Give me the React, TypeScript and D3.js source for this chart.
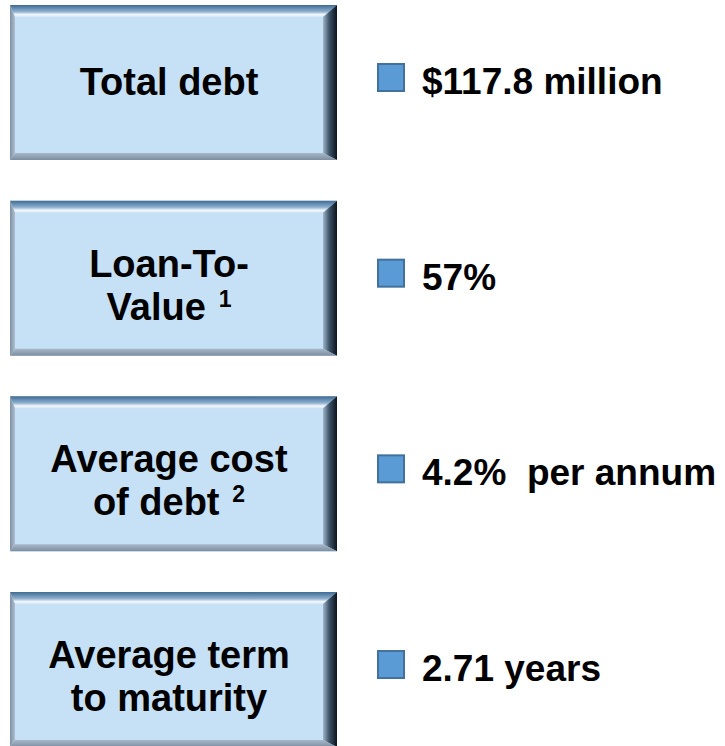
// DebtSummary.tsx
import React from 'react';
import * as d3 from 'd3';

const labels: string[][] = [
  ['Total debt'],
  ['Loan-To-', 'Value'],
  ['Average cost', 'of debt'],
  ['Average term', 'to maturity'],
];
const footnotes: string[] = ['', '1', '2', ''];
const values: string[] = ['$117.8 million', '57%', '4.2%  per annum', '2.71 years'];

const width = 725;
const height = 746;
const font = 'Liberation Sans, Arial, sans-serif';

const BevelBox = ({ x, y, w, h, id }: { x: number; y: number; w: number; h: number; id: number }) => {
  const t = 12; // top bevel
  const r = 14; // right bevel
  const b = 7; // bottom bevel
  const l = 5; // left bevel
  const x1 = x + w;
  const y1 = y + h;
  return (
    <g>
      <defs>
        <linearGradient id={`top${id}`} x1="0" y1="0" x2="0" y2="1">
          <stop offset="0" stopColor="#3f6a93" />
          <stop offset="0.55" stopColor="#8eb0cf" />
          <stop offset="0.8" stopColor="#f4f8fc" />
          <stop offset="1" stopColor="#d3e6f6" />
        </linearGradient>
        <linearGradient id={`right${id}`} x1="0" y1="0" x2="1" y2="0">
          <stop offset="0" stopColor="#9fb6cb" />
          <stop offset="0.45" stopColor="#3c5267" />
          <stop offset="1" stopColor="#0a141d" />
        </linearGradient>
        <linearGradient id={`bottom${id}`} x1="0" y1="0" x2="0" y2="1">
          <stop offset="0" stopColor="#a7b8ca" />
          <stop offset="1" stopColor="#7d8ea2" />
        </linearGradient>
        <linearGradient id={`left${id}`} x1="0" y1="0" x2="1" y2="0">
          <stop offset="0" stopColor="#7f90a4" />
          <stop offset="1" stopColor="#aebfd0" />
        </linearGradient>
      </defs>
      <rect x={x} y={y} width={w} height={h} fill="#c6e0f5" />
      <polygon
        points={`${x},${y} ${x1},${y} ${x1 - r},${y + t} ${x + l},${y + t}`}
        fill={`url(#top${id})`}
      />
      <polygon
        points={`${x1},${y} ${x1},${y1} ${x1 - r},${y1 - b} ${x1 - r},${y + t}`}
        fill={`url(#right${id})`}
      />
      <polygon
        points={`${x},${y1} ${x1},${y1} ${x1 - r},${y1 - b} ${x + l},${y1 - b}`}
        fill={`url(#bottom${id})`}
      />
      <polygon
        points={`${x},${y} ${x + l},${y + t} ${x + l},${y1 - b} ${x},${y1}`}
        fill={`url(#left${id})`}
      />
    </g>
  );
};

const App = () => {
  const yScale = d3.scaleBand<number>()
    .domain(d3.range(labels.length))
    .range([5, 747])
    .paddingInner(0.208)
    .paddingOuter(0);

  const boxX = 10;
  const boxW = 327;
  const bh = yScale.bandwidth();
  const lineH = 43;
  const textX = 169;

  return (
    <div style={{ position: 'absolute', left: 0, top: 0 }}>
      <svg width={width} height={height} style={{ display: 'block' }}>
        <rect width={width} height={height} fill="#ffffff" />
        {labels.map((lines, i) => {
          const top = yScale(i) as number;
          const first = lines.length > 1 ? top + 76 : top + bh / 2 + 13;
          return (
            <g key={i}>
              <BevelBox x={boxX} y={top} w={boxW} h={bh} id={i} />
              {lines.map((line, j) => (
                <text
                  key={j}
                  x={textX}
                  y={first + j * lineH}
                  textAnchor="middle"
                  fontFamily={font}
                  fontWeight="bold"
                  fontSize={38}
                  fill="#000"
                  style={{ whiteSpace: 'pre' }}
                >
                  {line}
                  {j === lines.length - 1 && footnotes[i] && (
                    <tspan fontSize={23} dy={-13}>{'  ' + footnotes[i]}</tspan>
                  )}
                </text>
              ))}
              <rect
                x={378}
                y={top + 59}
                width={26}
                height={27}
                fill="#5b9bd5"
                stroke="#41719c"
                strokeWidth={2}
              />
              <text
                x={422}
                y={top + 89}
                fontFamily={font}
                fontWeight="bold"
                fontSize={37}
                fill="#000"
                style={{ whiteSpace: 'pre' }}
              >
                {values[i]}
              </text>
            </g>
          );
        })}
      </svg>
    </div>
  );
};

export default App;
